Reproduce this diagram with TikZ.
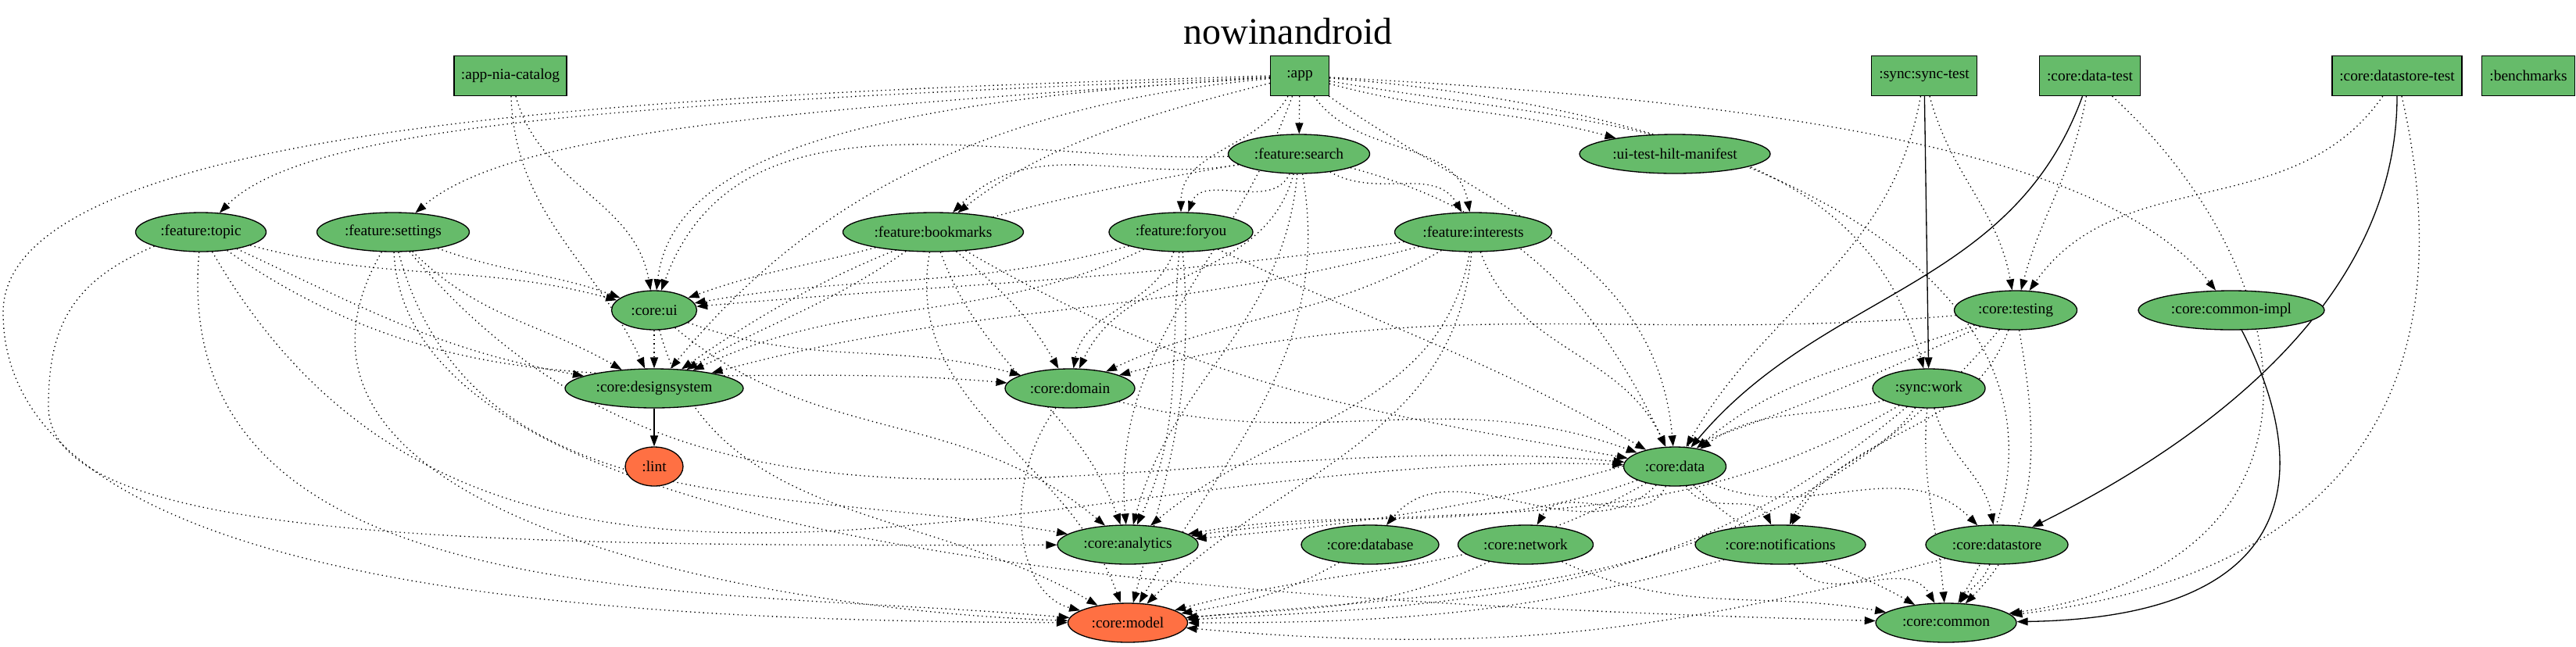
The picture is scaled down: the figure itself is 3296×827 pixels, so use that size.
\documentclass[tikz,border=0pt]{standalone}
\usepackage{fontspec}
\setmainfont{Liberation Serif}
\usetikzlibrary{shapes.geometric,arrows.meta}
\definecolor{ngreen}{HTML}{66BB6A}
\definecolor{norange}{HTML}{FF7043}
\pgfdeclarelayer{edgelayer}
\pgfsetlayers{edgelayer,main}
\begin{document}
\begin{tikzpicture}[x=0.25pt,y=0.25pt,
  mod/.style={draw=black,line width=0.33pt,fill=ngreen,inner sep=0pt,minimum height=12.5pt,font=\fontsize{4.85}{5.8}\selectfont},
  wd/.style={minimum width=#1*0.25pt},
  boxm/.style={mod,rectangle,minimum height=12.75pt},
  ell/.style={mod,ellipse},
  ello/.style={ell,fill=norange},
  dep/.style={line width=0.33pt,dash pattern=on 0.33pt off 1.05pt,-{Triangle[length=3.5pt,width=2.5pt]}},
  api/.style={line width=0.33pt,-{Triangle[length=3.5pt,width=2.5pt]}},
]
\useasboundingbox (0,0) rectangle (3296,-827);
\node[font=\fontsize{12}{14}\selectfont] (title) at (1648,-40) {nowinandroid};
% row 1
\node[boxm,wd=144] (cat) at (653,-97) {:app-nia-catalog};
\node[boxm,wd=75] (app) at (1663,-97) {:app};
\node[boxm,wd=135] (synct) at (2462,-97) {:sync:sync-test};
\node[boxm,wd=129] (datat) at (2674,-97) {:core:data-test};
\node[boxm,wd=166] (dstt) at (3067,-97) {:core:datastore-test};
\node[boxm,wd=119] (bench) at (3235,-97) {:benchmarks};
% row 2
\node[ell,wd=181] (search) at (1662,-197) {:feature:search};
\node[ell,wd=244] (uihilt) at (2143,-197) {:ui-test-hilt-manifest};
% row 3
\node[ell,wd=167] (topic) at (257,-297) {:feature:topic};
\node[ell,wd=195] (settings) at (503,-297) {:feature:settings};
\node[ell,wd=231] (bookmarks) at (1194,-297) {:feature:bookmarks};
\node[ell,wd=184] (foryou) at (1511,-297) {:feature:foryou};
\node[ell,wd=201] (interests) at (1885,-297) {:feature:interests};
% row 4
\node[ell,wd=109] (ui) at (837,-397) {:core:ui};
\node[ell,wd=157] (testing) at (2579,-397) {:core:testing};
\node[ell,wd=238] (cimpl) at (2855,-397) {:core:common-impl};
% row 5
\node[ell,wd=228] (dsys) at (837,-497) {:core:designsystem};
\node[ell,wd=166] (domain) at (1369,-497) {:core:domain};
\node[ell,wd=144] (work) at (2468,-497) {:sync:work};
% row 6
\node[ello,wd=74] (lint) at (837,-597) {:lint};
\node[ell,wd=131] (data) at (2143,-597) {:core:data};
% row 7
\node[ell,wd=180] (analytics) at (1443,-697) {:core:analytics};
\node[ell,wd=176] (database) at (1753,-697) {:core:database};
\node[ell,wd=173] (network) at (1952,-697) {:core:network};
\node[ell,wd=218] (notif) at (2278,-697) {:core:notifications};
\node[ell,wd=182] (datastore) at (2555,-697) {:core:datastore};
% row 8
\node[ello,wd=153] (model) at (1443,-797) {:core:model};
\node[ell,wd=180] (common) at (2490,-797) {:core:common};
\begin{pgfonlayer}{edgelayer}
\fill[white] (0,0) rectangle (3296,-827);
% ---- edges: app
\draw[dep] (app) -- (search);
\draw[dep] (app) .. controls (900,-130) and (400,-150) .. (topic);
\draw[dep] (app) .. controls (1000,-140) and (650,-170) .. (settings);
\draw[dep] (app) .. controls (1450,-150) and (1330,-190) .. (bookmarks);
\draw[dep] (app) to[out=-120,in=90] (foryou);
\draw[dep] (app) to[out=-55,in=100] (interests);
\draw[dep] (app) to[out=-15,in=165] (uihilt);
\draw[dep] (app) .. controls (2300,-130) and (2700,-200) .. (cimpl);
\draw[dep] (app) .. controls (1100,-130) and (860,-200) .. (ui);
\draw[dep] (app) .. controls (1200,-140) and (1000,-300) .. (dsys);
\draw[dep] (app) to[out=-35,in=95] (data);
\draw[dep] (app) to[out=-10,in=105] (work);
\draw[dep] (app) .. controls (2350,-150) and (2720,-420) .. (common);
\draw[dep] (app) to[out=-110,in=95] (analytics);
\draw[dep] (app.west) .. controls (900,-120) and (4,-150) .. (4,-400) .. controls (4,-760) and (800,-795) .. (model);
% catalog
\draw[dep] (cat) to[out=-75,in=100] (ui);
\draw[dep] (cat) to[out=-88,in=115] (dsys);
% search
\draw[dep] (search) to[out=190,in=45] (bookmarks);
\draw[dep] (search) to[out=-115,in=70] (foryou);
\draw[dep] (search) to[out=-30,in=120] (interests);
\draw[dep] (search) to[out=182,in=70] (ui);
\draw[dep] (search) to[out=190,in=35] (dsys);
\draw[dep] (search) to[out=-105,in=65] (domain);
\draw[dep] (search) to[out=-15,in=115] (data);
\draw[dep] (search) to[out=-95,in=75] (analytics);
\draw[dep] (search) to[out=-80,in=60] (model);
% bookmarks
\draw[dep] (bookmarks) to[out=195,in=20] (ui);
\draw[dep] (bookmarks) to[out=215,in=30] (dsys);
\draw[dep] (bookmarks) to[out=-40,in=120] (domain);
\draw[dep] (bookmarks) to[out=-30,in=170] (data);
\draw[dep] (bookmarks) to[out=-70,in=110] (analytics);
\draw[dep] (bookmarks) to[out=-100,in=110] (model);
% foryou
\draw[dep] (foryou) to[out=195,in=10] (ui);
\draw[dep] (foryou) to[out=205,in=25] (dsys);
\draw[dep] (foryou) to[out=-110,in=80] (domain);
\draw[dep] (foryou) to[out=-25,in=150] (data);
\draw[dep] (foryou) to[out=-95,in=65] (analytics);
\draw[dep] (foryou) to[out=-85,in=75] (model);
% interests
\draw[dep] (interests) to[out=188,in=5] (ui);
\draw[dep] (interests) to[out=195,in=15] (dsys);
\draw[dep] (interests) to[out=210,in=25] (domain);
\draw[dep] (interests) to[out=-70,in=115] (data);
\draw[dep] (interests) to[out=-100,in=40] (analytics);
\draw[dep] (interests) to[out=-95,in=45] (model);
% topic
\draw[dep] (topic) to[out=-15,in=165] (ui);
\draw[dep] (topic) to[out=-25,in=170] (dsys);
\draw[dep] (topic) to[out=-35,in=175] (domain);
\draw[dep] (topic) to[out=-60,in=178] (data);
\draw[dep] (topic) to[out=-95,in=175] (model);
\draw[dep] (topic.south west) .. controls (90,-360) and (62,-420) .. (62,-520) .. controls (62,-690) and (600,-700) .. (analytics);
% settings
\draw[dep] (settings) to[out=-20,in=160] (ui);
\draw[dep] (settings) to[out=-45,in=150] (dsys);
\draw[dep] (settings) to[out=-50,in=175] (data);
\draw[dep] (settings) to[out=-75,in=170] (analytics);
\draw[dep] (settings) to[out=-120,in=178] (model);
\draw[dep] (settings) .. controls (520,-700) and (1500,-770) .. (common);
% core:ui
\draw[dep] (ui) -- (dsys);
\draw[dep] (ui) to[out=-20,in=165] (domain);
\draw[dep] (ui) to[out=-40,in=140] (analytics);
\draw[dep] (ui) to[out=-75,in=150] (model);
% designsystem
\draw[api] (dsys) -- (lint);
% domain
\draw[dep] (domain) to[out=-15,in=160] (data);
\draw[dep] (domain) .. controls (1280,-620) and (1300,-760) .. (model);
% data
\draw[dep] (data) to[out=200,in=10] (analytics);
\draw[dep] (data) to[out=-135,in=50] (database);
\draw[dep] (data) to[out=-115,in=60] (network);
\draw[dep] (data) to[out=-60,in=115] (notif);
\draw[dep] (data) to[out=-25,in=135] (datastore);
\draw[dep] (data) to[out=-45,in=150] (common);
\draw[dep] (data) to[out=210,in=15] (model);
% testing
\draw[dep] (testing) to[out=185,in=15] (domain);
\draw[dep] (testing) to[out=200,in=40] (data);
\draw[dep] (testing) to[out=205,in=5] (analytics);
\draw[dep] (testing) to[out=-130,in=5] (model);
\draw[dep] (testing) to[out=-110,in=60] (notif);
\draw[dep] (testing) to[out=-80,in=45] (common);
% sync:work
\draw[dep] (work) to[out=195,in=35] (data);
\draw[dep] (work) to[out=210,in=8] (analytics);
\draw[dep] (work) to[out=-125,in=65] (notif);
\draw[dep] (work) to[out=-75,in=100] (datastore);
\draw[dep] (work) to[out=-95,in=95] (common);
\draw[dep] (work) to[out=-140,in=3] (model);
% row 7
\draw[dep] (database) to[out=-150,in=10] (model);
\draw[dep] (network) to[out=-155,in=5] (model);
\draw[dep] (network) to[out=-25,in=170] (common);
\draw[dep] (notif) to[out=-165,in=0] (model);
\draw[dep] (notif) to[out=-55,in=120] (common);
\draw[dep] (datastore) to[out=195,in=-5] (model);
\draw[dep] (datastore) to[out=-110,in=55] (common);
% test modules
\draw[api] (synct) -- (work);
\draw[dep] (synct) to[out=-75,in=100] (testing);
\draw[dep] (synct) to[out=-100,in=60] (data);
\draw[api] (datat) to[out=-110,in=50] (data);
\draw[dep] (datat) to[out=-100,in=75] (testing);
\draw[dep] (datat) .. controls (2950,-350) and (3010,-720) .. (common);
\draw[api] (dstt) .. controls (3067,-380) and (2830,-560) .. (datastore);
\draw[dep] (dstt) to[out=-125,in=55] (testing);
\draw[dep] (dstt) .. controls (3125,-350) and (3130,-720) .. (common);
\draw[api] (cimpl) .. controls (2960,-600) and (2950,-790) .. (common);
\end{pgfonlayer}
\end{tikzpicture}
\end{document}
